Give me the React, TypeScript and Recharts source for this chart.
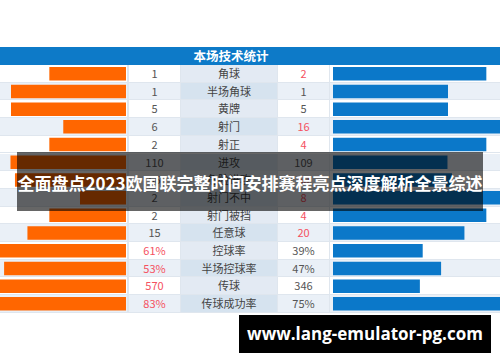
import React from "react";
import { BarChart, Bar, XAxis, YAxis } from "recharts";

const categories = [
  "角球", "半场角球", "黄牌", "射门", "射正", "进攻", "危险进攻",
  "射门不中", "射门被挡", "任意球", "控球率", "半场控球率", "传球", "传球成功率",
];
const homeValues = [1, 1, 5, 6, 2, 110, 56, 2, 2, 15, 61, 53, 570, 83];
const awayValues = [2, 1, 5, 16, 4, 109, 60, 8, 4, 20, 39, 47, 346, 75];
const percentStats = ["控球率", "半场控球率", "传球成功率"];
// which side's number is shown in red
const highlight = ["away", "", "", "away", "away", "", "away", "away", "away", "away", "home", "home", "home", "home"];

const ROW_H = 17.7;
const TOP = 65;
const SCALE = 230; // px for a full share
const LEFT_W = 126;
const RIGHT_X = 333;
const RIGHT_W = 500 - RIGHT_X;
const FONT = '"Noto Sans CJK SC", "Noto Sans", sans-serif';

const rows = categories.map((name, i) => {
  const pct = percentStats.includes(name);
  const l = homeValues[i];
  const r = awayValues[i];
  return {
    name,
    home: pct ? l / 100 : l / (l + r),
    away: pct ? r / 100 : r / (l + r),
    homeText: pct ? `${l}%` : `${l}`,
    awayText: pct ? `${r}%` : `${r}`,
    hl: highlight[i],
  };
});

const numColor = (on: boolean) => (on ? "#f5515f" : "#555");

export default function App() {
  const chartH = ROW_H * rows.length;
  return (
    <div style={{ position: "absolute", left: 0, top: 0, width: 500, height: 362, background: "#fff", overflow: "hidden", fontFamily: FONT }}>
      <div style={{ position: "absolute", left: 0, top: 47, width: 500, height: 18, background: "#0d7ac8" }}>
        <div style={{ position: "absolute", left: 131, width: 200, top: 0, lineHeight: "18px", textAlign: "center", color: "#fff", fontWeight: 700, fontSize: 12.5 }}>
          本场技术统计
        </div>
      </div>

      {rows.map((r, i) => {
        const odd = i % 2 === 1;
        const bg = odd ? "#eaf0f7" : "#fff";
        const labelBg = odd ? "#d6e3ef" : "#e3eaf3";
        const top = TOP + i * ROW_H;
        const cell = (left: number, width: number, color: string): React.CSSProperties => ({
          position: "absolute", left, width, top: 0, height: ROW_H - 1, background: color,
          lineHeight: `${ROW_H - 1}px`, textAlign: "center", fontSize: 11,
        });
        return (
          <div key={r.name} style={{ position: "absolute", left: 0, top, width: 500, height: ROW_H, background: "#dfe6ee" }}>
            <div style={cell(0, 127, bg)} />
            <div style={{ ...cell(129, 51, bg), color: numColor(r.hl === "home") }}>{r.homeText}</div>
            <div style={{ ...cell(181, 96, labelBg), color: "#444" }}>{r.name}</div>
            <div style={{ ...cell(278, 51, bg), color: numColor(r.hl === "away") }}>{r.awayText}</div>
            <div style={cell(330, 170, bg)} />
          </div>
        );
      })}

      <div style={{ position: "absolute", left: 0, top: TOP }}>
        <BarChart layout="vertical" width={LEFT_W} height={chartH} data={rows} margin={{ top: 0, right: 0, bottom: 0, left: 0 }}>
          <XAxis type="number" hide reversed allowDataOverflow domain={[0, LEFT_W / SCALE]} />
          <YAxis type="category" dataKey="name" hide />
          <Bar dataKey="home" fill="#ff6600" barSize={13.5} isAnimationActive={false} />
        </BarChart>
      </div>
      <div style={{ position: "absolute", left: RIGHT_X, top: TOP }}>
        <BarChart layout="vertical" width={RIGHT_W} height={chartH} data={rows} margin={{ top: 0, right: 0, bottom: 0, left: 0 }}>
          <XAxis type="number" hide allowDataOverflow domain={[0, RIGHT_W / SCALE]} />
          <YAxis type="category" dataKey="name" hide />
          <Bar dataKey="away" fill="#0b78c9" barSize={13.5} isAnimationActive={false} />
        </BarChart>
      </div>

      <div style={{ position: "absolute", left: 17, top: 152, width: 466, height: 59, background: "rgba(0,0,0,0.6)", color: "#fff", fontWeight: 700, fontSize: 17, lineHeight: "62px", textAlign: "center", whiteSpace: "nowrap" }}>
        全面盘点2023欧国联完整时间安排赛程亮点深度解析全景综述
      </div>

      <div style={{ position: "absolute", left: 239, top: 315, width: 252, height: 38, background: "#000", color: "#fff", fontWeight: 700, fontSize: 17, lineHeight: "38px", textAlign: "center", fontFamily: '"Open Sans", sans-serif', whiteSpace: "nowrap" }}>
        www.lang-emulator-pg.com
      </div>
    </div>
  );
}
